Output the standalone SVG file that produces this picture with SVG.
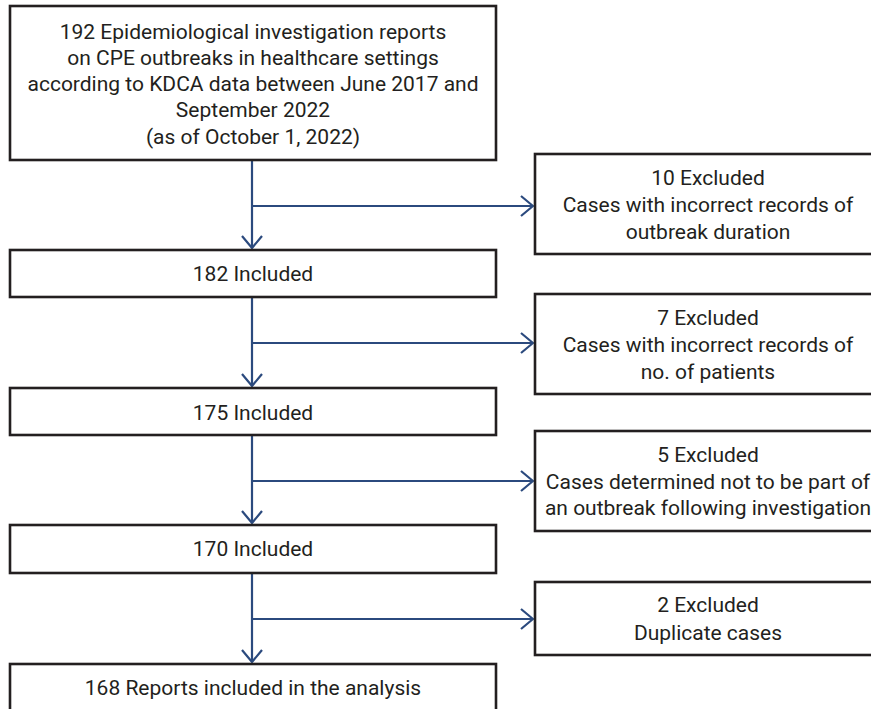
<svg xmlns="http://www.w3.org/2000/svg" width="871" height="709" viewBox="0 0 871 709">
<defs>
<style>
.box{fill:#fff;stroke:#231f20;stroke-width:2.6}
.t{font-family:Roboto,"Liberation Sans",sans-serif;font-size:21px;fill:#231f20;text-anchor:middle}
.c{fill:none;stroke:#2b4a7e;stroke-width:2.2}
</style>
<marker id="ah" viewBox="0 0 14 22" refX="13" refY="11" markerWidth="14" markerHeight="22" markerUnits="userSpaceOnUse" orient="auto">
<path d="M1,1 L13,11 L1,21" fill="none" stroke="#2b4a7e" stroke-width="2.2"/>
</marker>
</defs>
<rect width="871" height="709" fill="#fff"/>
<g id="connectors">
<path class="c" d="M252,160 V248" marker-end="url(#ah)"/>
<path class="c" d="M252,206 H533" marker-end="url(#ah)"/>
<path class="c" d="M252,297 V386" marker-end="url(#ah)"/>
<path class="c" d="M252,343 H533" marker-end="url(#ah)"/>
<path class="c" d="M252,435 V523" marker-end="url(#ah)"/>
<path class="c" d="M252,481 H533" marker-end="url(#ah)"/>
<path class="c" d="M252,573 V662" marker-end="url(#ah)"/>
<path class="c" d="M252,619 H533" marker-end="url(#ah)"/>
</g>
<g id="n192">
<rect class="box" x="10" y="6" width="486" height="154"/>
<text class="t" x="253" y="39">192 Epidemiological investigation reports</text>
<text class="t" x="253" y="65">on CPE outbreaks in healthcare settings</text>
<text class="t" x="253" y="91">according to KDCA data between June 2017 and</text>
<text class="t" x="253" y="117">September 2022</text>
<text class="t" x="253" y="144">(as of October 1, 2022)</text>
</g>
<g id="n182">
<rect class="box" x="10" y="250" width="486" height="47"/>
<text class="t" x="253" y="281">182 Included</text>
</g>
<g id="n175">
<rect class="box" x="10" y="388" width="486" height="47"/>
<text class="t" x="253" y="420">175 Included</text>
</g>
<g id="n170">
<rect class="box" x="10" y="525" width="486" height="48"/>
<text class="t" x="253" y="556">170 Included</text>
</g>
<g id="n168">
<rect class="box" x="10" y="664" width="486" height="60"/>
<text class="t" x="253" y="695">168 Reports included in the analysis</text>
</g>
<g id="x10">
<rect class="box" x="535" y="154" width="346" height="100"/>
<text class="t" x="708" y="185">10 Excluded</text>
<text class="t" x="708" y="212">Cases with incorrect records of</text>
<text class="t" x="708" y="239">outbreak duration</text>
</g>
<g id="x7">
<rect class="box" x="535" y="294" width="346" height="100"/>
<text class="t" x="708" y="325">7 Excluded</text>
<text class="t" x="708" y="352">Cases with incorrect records of</text>
<text class="t" x="708" y="379">no. of patients</text>
</g>
<g id="x5">
<rect class="box" x="535" y="431" width="346" height="100"/>
<text class="t" x="708" y="462">5 Excluded</text>
<text class="t" x="708" y="489">Cases determined not to be part of</text>
<text class="t" x="708" y="515">an outbreak following investigation</text>
</g>
<g id="x2">
<rect class="box" x="535" y="582" width="346" height="73"/>
<text class="t" x="708" y="612">2 Excluded</text>
<text class="t" x="708" y="640">Duplicate cases</text>
</g>
</svg>
